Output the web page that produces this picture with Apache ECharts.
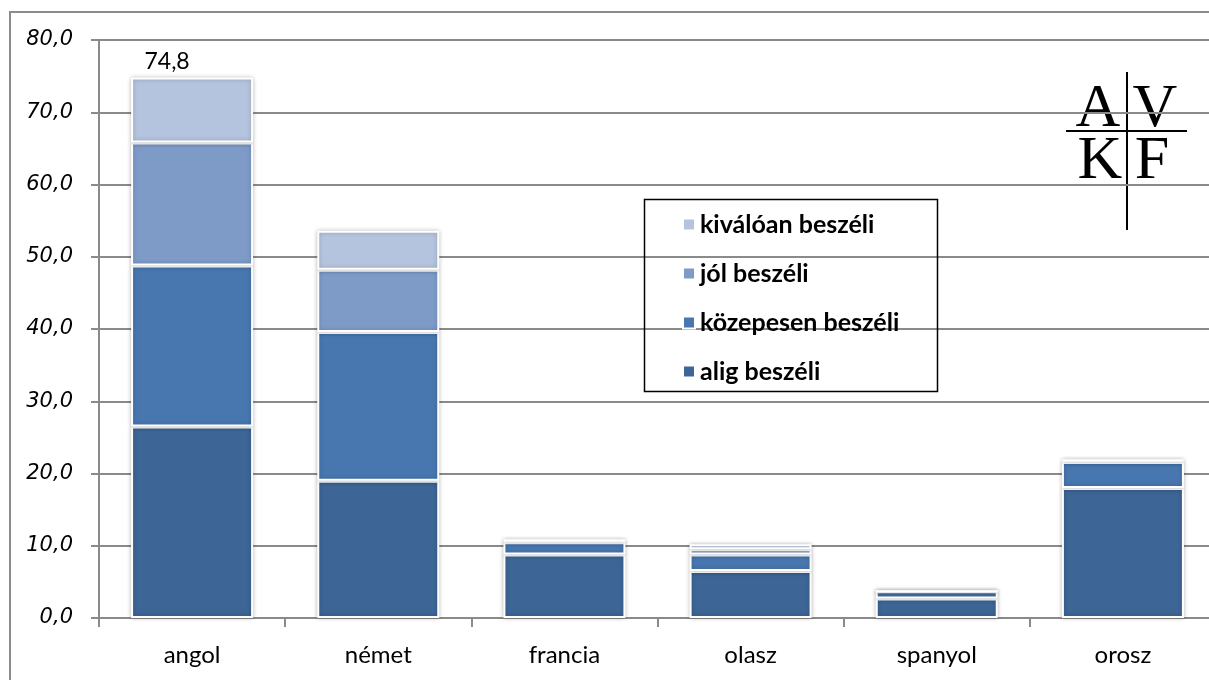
<!DOCTYPE html>
<html>
<head>
<meta charset="utf-8">
<script src="https://cdn.jsdelivr.net/npm/echarts@6/dist/echarts.min.js"></script>
<style>
  html, body { margin: 0; padding: 0; background: #fff; }
  #chart { width: 1209px; height: 680px; }
</style>
</head>
<body>
<div id="chart"></div>
<script>
// nyelvek és szintek (százalék)
const categories = ['angol', 'német', 'francia', 'olasz', 'spanyol', 'orosz'];
const seriesNames = ['alig beszéli', 'közepesen beszéli', 'jól beszéli', 'kiválóan beszéli'];
const alig = [26.5, 19.0, 8.8, 6.5, 2.7, 18.0];
const kozepesen = [22.3, 20.6, 1.7, 2.3, 1.0, 3.6];
const jol = [17.0, 8.6, 0.1, 0.7, 0.0, 0.2];
const kivalo = [9.0, 5.4, 0.3, 0.7, 0.0, 0.1];
const yTicks = [0, 10, 20, 30, 40, 50, 60, 70, 80];

const colors = ['#3d6596', '#4877b0', '#7e9bc8', '#b5c4de'];
const fmt = v => v.toFixed(1).replace('.', ',');

const chart = echarts.init(document.getElementById('chart'));

const stacks = [alig, kozepesen, jol, kivalo];
const totals = categories.map((c, i) => stacks.reduce((s, a) => s + a[i], 0));

const series = stacks.map((arr, k) => ({
  name: seriesNames[k],
  type: 'bar',
  stack: 'total',
  data: arr,
  barWidth: 122,
  itemStyle: {
    color: colors[k],
    borderColor: '#fff',
    borderWidth: 2,
    shadowBlur: 4,
    shadowColor: 'rgba(0,0,0,0.25)'
  },
  label: k === 3 ? {
    show: true,
    position: 'top',
    distance: 4,
    offset: [-25, 0],
    color: '#000',
    fontFamily: 'Lato',
    fontSize: 23,
    formatter: p => (p.dataIndex === 0 ? fmt(totals[0]) : '')
  } : {show: false}
}));

const option = {
  animation: false,
  backgroundColor: '#fff',
  grid: {left: 99, top: 40, width: 1117, height: 578, outerBoundsMode: 'none', containLabel: false},
  legend: {
    data: seriesNames.slice().reverse(),
    orient: 'vertical',
    left: 682,
    top: 212,
    padding: 0,
    itemWidth: 12,
    itemHeight: 12,
    itemGap: 24,
    icon: 'rect',
    selectedMode: false,
    textStyle: {
      color: '#000',
      fontFamily: 'Lato',
      fontWeight: 'bold',
      fontSize: 25,
      lineHeight: 24,
      padding: [0, 0, 0, 0]
    }
  },
  xAxis: {
    type: 'category',
    data: categories,
    axisLine: {lineStyle: {color: '#8a8a8a', width: 2}},
    axisTick: {show: true, length: 9, lineStyle: {color: '#8a8a8a', width: 2}},
    axisLabel: {color: '#000', fontFamily: 'Lato', fontSize: 24, margin: 25}
  },
  yAxis: {
    type: 'value',
    min: yTicks[0],
    max: yTicks[yTicks.length - 1],
    interval: 10,
    axisLine: {show: true, lineStyle: {color: '#8a8a8a', width: 2}},
    axisTick: {show: true, length: 8, lineStyle: {color: '#8a8a8a', width: 2}},
    splitLine: {lineStyle: {color: '#8a8a8a', width: 2}},
    axisLabel: {
      margin: 26,
      formatter: v => '{i|' + fmt(v) + '}',
      rich: {
        i: {
          color: '#000',
          fontFamily: 'DejaVu Sans',
          fontStyle: 'italic',
          fontSize: 21
        }
      }
    }
  },
  graphic: [
    // cím (levágva)
    {
      type: 'text', x: 22, y: -12, z: 100,
      style: {
        text: 'Az egyes nyelveket milyen szinten beszélik az adott nyelvet beszélők (százalékban)',
        font: 'italic bold 26px Lato', fill: '#000', verticalAlign: 'middle'
      }
    },
    // külső keret
    {
      type: 'rect', z: 100, silent: true,
      shape: {x: 10, y: 12, width: 1300, height: 700},
      style: {fill: 'none', stroke: '#8c8c8c', lineWidth: 2}
    },
    // jelmagyarázat kerete
    {
      type: 'rect', z: 100, silent: true,
      shape: {x: 644.5, y: 199.5, width: 293, height: 192},
      style: {fill: 'none', stroke: '#000', lineWidth: 1.5}
    },
    // logó
    {
      type: 'group', z: 100, silent: true,
      children: [
        {type: 'rect', shape: {x: 1066, y: 70, width: 121, height: 162}, style: {fill: '#fff'}},
        {type: 'line', shape: {x1: 1127, y1: 72, x2: 1127, y2: 230}, style: {stroke: '#000', lineWidth: 2}},
        {type: 'line', shape: {x1: 1066, y1: 131, x2: 1187, y2: 131}, style: {stroke: '#000', lineWidth: 2}},
        {type: 'text', x: 1098, y: 110, style: {text: 'A', font: '62px "Liberation Serif"', fill: '#000', align: 'center', verticalAlign: 'middle'}},
        {type: 'text', x: 1155, y: 110, style: {text: 'V', font: '62px "Liberation Serif"', fill: '#000', align: 'center', verticalAlign: 'middle'}},
        {type: 'text', x: 1100, y: 162, style: {text: 'K', font: '62px "Liberation Serif"', fill: '#000', align: 'center', verticalAlign: 'middle'}},
        {type: 'text', x: 1152, y: 162, style: {text: 'F', font: '62px "Liberation Serif"', fill: '#000', align: 'center', verticalAlign: 'middle'}}
      ]
    }
  ],
  series: series
};

chart.setOption(option);
window.addEventListener('resize', () => chart.resize());
</script>
</body>
</html>
